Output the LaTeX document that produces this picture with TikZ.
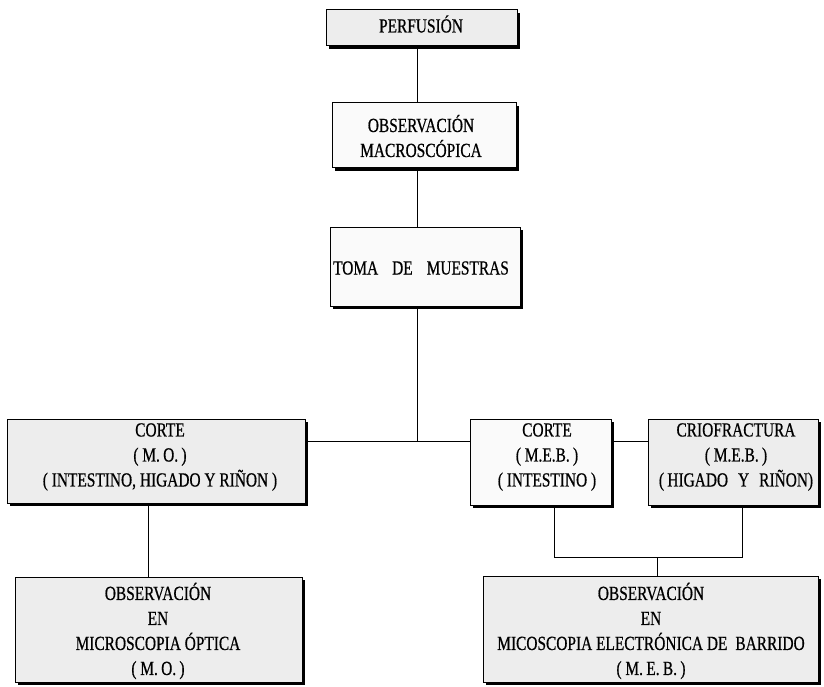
\documentclass[tikz,border=0pt]{standalone}
\usepackage{fontspec}
\setmainfont{Liberation Serif}[FakeStretch=0.77, FakeBold=0.6]
\usetikzlibrary{shadows}
\begin{document}
\begin{tikzpicture}[x=1pt,y=-1pt,
  box/.style={draw=black, line width=1pt, inner sep=0pt,
    drop shadow={shadow xshift=3pt, shadow yshift=-3pt, fill=black, opacity=1}},
  heavy/.style={box, fill=gray!14},
  light/.style={box, fill=gray!4},
  txt/.style={align=center, inner sep=0pt, font=\fontsize{20}{25}\selectfont},
  link/.style={draw=black, line width=1pt}]
\useasboundingbox[fill=white] (0,0) rectangle (824,687);

% boxes
\node[heavy, minimum width=191pt, minimum height=36pt] (perf) at (421.5,28) {};
\node[light, minimum width=184pt, minimum height=65pt] (macro) at (424,135.5) {};
\node[light, minimum width=190pt, minimum height=79pt] (toma) at (425,266.5) {};
\node[heavy, minimum width=298pt, minimum height=84pt] (corteMO) at (156,461) {};
\node[light, minimum width=141pt, minimum height=86pt] (corteMEB) at (540.5,462) {};
\node[heavy, minimum width=170pt, minimum height=86pt] (crio) at (733,462) {};
\node[heavy, minimum width=287pt, minimum height=105pt] (obsMO) at (158.5,629.5) {};
\node[heavy, minimum width=335pt, minimum height=106pt] (obsMEB) at (650.5,629) {};

% texts
\node[txt] (perfT) at (421,24) {PERFUSIÓN};
\node[txt] (macroT) at (421,136) {OBSERVACIÓN\\MACROSCÓPICA};
\node[txt] (tomaT) at (421,268) {TOMA\hspace{14pt}DE\hspace{14pt}MUESTRAS};
\node[txt] (corteMOT) at (160,457) {CORTE\\( M.\,O.\,)\\( INTESTINO, HIGADO Y RIÑON )};
\node[txt] (corteMEBT) at (547,457) {CORTE\\( M.E.B.\,)\\( INTESTINO )};
\node[txt] (crioT) at (736,457) {CRIOFRACTURA\\( M.E.B.\,)\\(\,HIGADO\hspace{10pt}Y\hspace{10pt}RIÑON)};
\node[txt] (obsMOT) at (158,631) {OBSERVACIÓN\\EN\\MICROSCOPIA ÓPTICA\\( M.\,O.\,)};
\node[txt] (obsMEBT) at (651,631) {OBSERVACIÓN\\EN\\MICOSCOPIA ELECTRÓNICA DE\hspace{8pt}BARRIDO\\( M.\,E.\,B.\,)};

% connectors
\coordinate (j) at (417,441);
\coordinate (a) at (148,0);
\coordinate (b) at (554,557);
\coordinate (c) at (742,557);
\coordinate (d) at (657,557);

\draw[link] (perf.south -| j) -- (macro.north -| j);
\draw[link] (macro.south -| j) -- (toma.north -| j);
\draw[link] (toma.south -| j) -- (j);
\draw[link] (corteMO.east |- j) -- (corteMEB.west |- j);
\draw[link] (corteMEB.east |- j) -- (crio.west |- j);
\draw[link] (corteMO.south -| a) -- (obsMO.north -| a);
\draw[link] (corteMEB.south -| b) -- (b) -- (c) -- (crio.south -| c);
\draw[link] (d) -- (obsMEB.north -| d);
\end{tikzpicture}
\end{document}
